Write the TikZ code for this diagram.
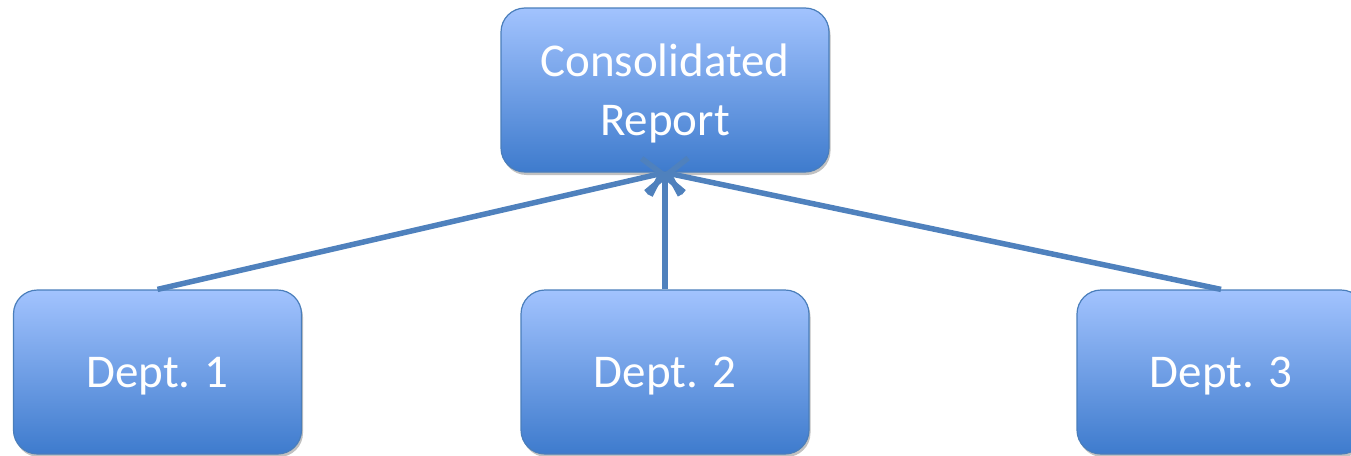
\documentclass[tikz,border=0pt]{standalone}
\usepackage{fontspec}
\setmainfont{Carlito}
\usetikzlibrary{arrows.meta,shadows}
\definecolor{boxtop}{HTML}{A2C3FE}
\definecolor{boxbot}{HTML}{3E7BCD}
\definecolor{boxline}{HTML}{4A7EBB}
\definecolor{arrowc}{HTML}{4F81BD}
\tikzset{
  box/.style={draw=boxline, line width=1.2pt, rounded corners=24pt,
    top color=boxtop, bottom color=boxbot, text=white,
    font=\fontsize{47}{59}\selectfont, align=center, inner sep=0pt, text depth=0pt,
    drop shadow={shadow xshift=1.5pt, shadow yshift=-3pt, opacity=0.35, fill=black!70}},
  link/.style={draw=arrowc, line width=5.5pt,
    -{Straight Barb[length=16pt, width=38pt, line width=5.5pt]}}
}
\begin{document}
\begin{tikzpicture}[x=1pt,y=-1pt]
\useasboundingbox (0,0) rectangle (1351,455);
\node[box, minimum width=328pt, minimum height=164pt] (top) at (665,90) {Consolidated\\Report};
\node[box, minimum width=288pt, minimum height=164pt] (d1) at (157.5,372) {Dept. 1};
\node[box, minimum width=288pt, minimum height=164pt] (d2) at (665,372) {Dept. 2};
\node[box, minimum width=288pt, minimum height=164pt] (d3) at (1221,372) {Dept. 3};
\draw[link] (d1.north) -- (top.south);
\draw[link] (d2.north) -- (top.south);
\draw[link] (d3.north) -- (top.south);
\end{tikzpicture}
\end{document}
